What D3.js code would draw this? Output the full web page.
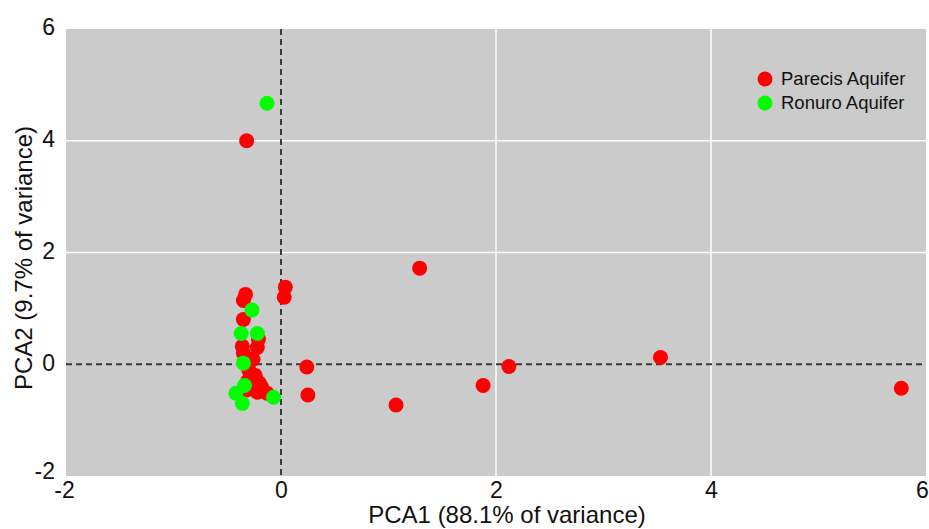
<!DOCTYPE html>
<html>
<head>
<meta charset="utf-8">
<script src="https://d3js.org/d3.v7.min.js"></script>
<style>
  body { margin: 0; background: #fff; }
  svg text { font-family: "Liberation Sans", Arial, sans-serif; fill: #111; }
</style>
</head>
<body>
<script>
// PCA scores
var parecisX = [-0.32, 1.29, 3.53, 5.77, 2.12, 1.88, 1.07, 0.24, 0.25, 0.04, 0.03,
                -0.33, -0.35, -0.35, -0.36, -0.22, -0.26, -0.35, -0.24, -0.20, -0.31,
                -0.22, -0.13, -0.32, -0.18, -0.30, -0.21];
var parecisY = [4.00, 1.72, 0.12, -0.43, -0.04, -0.38, -0.73, -0.05, -0.55, 1.38, 1.20,
                1.25, 1.14, 0.80, 0.32, 0.30, 0.09, 0.20, -0.20, -0.34, -0.30,
                -0.50, -0.52, -0.46, -0.41, -0.10, 0.45];
var ronuroX = [-0.13, -0.27, -0.37, -0.22, -0.35, -0.34, -0.42, -0.36, -0.07];
var ronuroY = [4.67, 0.97, 0.55, 0.55, 0.02, -0.38, -0.52, -0.70, -0.59];

var tickVals = [-2, 0, 2, 4, 6];
var seriesNames = ["Parecis Aquifer", "Ronuro Aquifer"];
var seriesColors = ["#ff0000", "#00ff00"];

var width = 929, height = 529;
var pLeft = 66, pRight = 926, pTop = 29, pBottom = 476;

var svg = d3.select("body").append("svg")
    .attr("width", width)
    .attr("height", height);

var x = d3.scaleLinear().domain([-2, 6]).range([pLeft, pRight]);
var y = d3.scaleLinear().domain([-2, 6]).range([pBottom, pTop]);

// grey panel
svg.append("rect")
    .attr("x", pLeft).attr("y", pTop)
    .attr("width", pRight - pLeft).attr("height", pBottom - pTop)
    .attr("fill", "#cbcbcb");

// white grid lines
svg.selectAll(".vgrid").data([2, 4]).enter().append("line")
    .attr("x1", function(d) { return x(d); }).attr("x2", function(d) { return x(d); })
    .attr("y1", pTop).attr("y2", pBottom)
    .attr("stroke", "#fff").attr("stroke-width", 1.5);
svg.selectAll(".hgrid").data([2, 4]).enter().append("line")
    .attr("y1", function(d) { return y(d); }).attr("y2", function(d) { return y(d); })
    .attr("x1", pLeft).attr("x2", pRight)
    .attr("stroke", "#fff").attr("stroke-width", 1.5);

// dashed zero lines
svg.append("line")
    .attr("x1", x(0)).attr("x2", x(0)).attr("y1", pTop).attr("y2", pBottom)
    .attr("stroke", "#3a3a3a").attr("stroke-width", 2).attr("stroke-dasharray", "6,4");
svg.append("line")
    .attr("x1", pLeft).attr("x2", pRight).attr("y1", y(0)).attr("y2", y(0))
    .attr("stroke", "#3a3a3a").attr("stroke-width", 2).attr("stroke-dasharray", "6,4");

// axes (labels only)
var xAxis = svg.append("g")
    .attr("transform", "translate(0," + pBottom + ")")
    .call(d3.axisBottom(x).tickValues(tickVals).tickFormat(String).tickSize(0).tickPadding(6));
xAxis.select(".domain").remove();
xAxis.selectAll("text")
    .style("font-size", "23px")
    .attr("x", function(d) { return d === -2 ? -2 : (d === 6 ? -4 : 0); });

var yAxis = svg.append("g")
    .attr("transform", "translate(" + pLeft + ",0)")
    .call(d3.axisLeft(y).tickValues(tickVals).tickFormat(String).tickSize(0).tickPadding(11));
yAxis.select(".domain").remove();
yAxis.selectAll("text")
    .style("font-size", "23px")
    .attr("dy", function(d) { return d === -2 ? "0.1em" : "0.25em"; });
svg.selectAll(".tick").attr("font-family", null);

// axis titles
svg.append("text")
    .attr("x", 507).attr("y", 523)
    .attr("text-anchor", "middle")
    .style("font-size", "24px")
    .text("PCA1 (88.1% of variance)");
svg.append("text")
    .attr("transform", "translate(32,258) rotate(-90)")
    .attr("text-anchor", "middle")
    .style("font-size", "24px")
    .text("PCA2 (9.7% of variance)");

// points
var parecis = parecisX.map(function(v, i) { return [v, parecisY[i]]; });
var ronuro = ronuroX.map(function(v, i) { return [v, ronuroY[i]]; });

svg.selectAll(".p").data(parecis).enter().append("circle")
    .attr("cx", function(d) { return x(d[0]); })
    .attr("cy", function(d) { return y(d[1]); })
    .attr("r", 7.5)
    .attr("fill", seriesColors[0]);
svg.selectAll(".r").data(ronuro).enter().append("circle")
    .attr("cx", function(d) { return x(d[0]); })
    .attr("cy", function(d) { return y(d[1]); })
    .attr("r", 7.5)
    .attr("fill", seriesColors[1]);

// legend
var leg = svg.selectAll(".leg").data(seriesNames).enter().append("g")
    .attr("transform", function(d, i) { return "translate(765," + (79 + i * 24) + ")"; });
leg.append("circle").attr("r", 7.5).attr("fill", function(d, i) { return seriesColors[i]; });
leg.append("text")
    .attr("x", 16).attr("dy", "0.35em")
    .style("font-size", "18.5px")
    .text(function(d) { return d; });
</script>
</body>
</html>
